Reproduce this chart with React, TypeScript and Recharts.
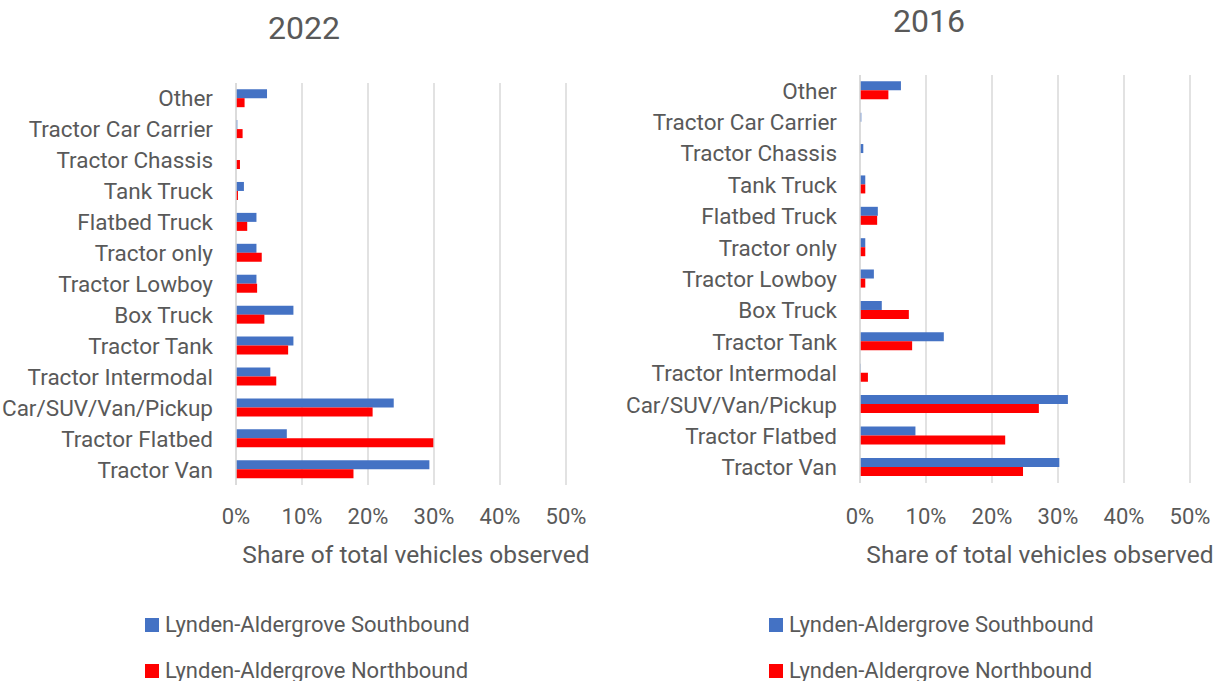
import { BarChart, Bar, XAxis, YAxis, CartesianGrid } from "recharts"

const categories = [
  "Other",
  "Tractor Car Carrier",
  "Tractor Chassis",
  "Tank Truck",
  "Flatbed Truck",
  "Tractor only",
  "Tractor Lowboy",
  "Box Truck",
  "Tractor Tank",
  "Tractor Intermodal",
  "Car/SUV/Van/Pickup",
  "Tractor Flatbed",
  "Tractor Van",
]

// percent of total vehicles observed
const south2022 = [4.7, 0.2, 0, 1.2, 3.1, 3.1, 3.1, 8.7, 8.7, 5.2, 23.9, 7.7, 29.3]
const north2022 = [1.3, 1.0, 0.6, 0.3, 1.7, 3.9, 3.2, 4.3, 7.9, 6.1, 20.7, 29.9, 17.8]
const south2016 = [6.2, 0.2, 0.5, 0.8, 2.7, 0.8, 2.1, 3.3, 12.7, 0.1, 31.5, 8.4, 30.2]
const north2016 = [4.3, 0, 0, 0.8, 2.6, 0.8, 0.8, 7.4, 7.9, 1.2, 27.1, 22.0, 24.7]

const xTicks = [0, 10, 20, 30, 40, 50]

const SOUTH = "Lynden-Aldergrove Southbound"
const NORTH = "Lynden-Aldergrove Northbound"
const BLUE = "#4472C4"
const RED = "#FF0000"
const TEXT = "#595959"
const GRID = "#D9D9D9"
const FONT = "Roboto, 'Open Sans', sans-serif"

const buildRows = (south: number[], north: number[]) =>
  categories.map((name, i) => ({ name, south: south[i], north: north[i] }))

interface PanelProps {
  title: string
  south: number[]
  north: number[]
  left: number
  width: number
  margin: { top: number; right: number; bottom: number; left: number }
  yWidth: number
  tickGap: number
  labelOffset: number
  titleX: number
  titleTop: number
  legendX: number
}

function Panel({
  title,
  south,
  north,
  left,
  width,
  margin,
  yWidth,
  tickGap,
  labelOffset,
  titleX,
  titleTop,
  legendX,
}: PanelProps) {
  const rows = buildRows(south, north)
  return (
    <>
      <div
        style={{
          position: "absolute",
          left: titleX - 100,
          width: 200,
          top: titleTop,
          textAlign: "center",
          fontFamily: FONT,
          fontSize: 32,
          lineHeight: "32px",
          color: TEXT,
        }}
      >
        {title}
      </div>
      <div style={{ position: "absolute", left, top: 0 }}>
        <BarChart
          width={width}
          height={681}
          data={rows}
          layout="vertical"
          margin={margin}
          barCategoryGap="20%"
          barGap={0}
        >
          <CartesianGrid horizontal={false} stroke={GRID} strokeWidth={1.5} />
          <XAxis
            type="number"
            domain={[0, 50]}
            ticks={xTicks}
            tickFormatter={(v) => `${v}%`}
            axisLine={false}
            tickLine={false}
            tickSize={0}
            tickMargin={tickGap}
            height={80}
            tick={{ fill: TEXT, fontSize: 22, fontFamily: FONT }}
            label={{
              value: "Share of total vehicles observed",
              position: "insideBottom",
              offset: labelOffset,
              dx: 15,
              fill: TEXT,
              fontSize: 24.5,
              fontFamily: FONT,
            }}
          />
          <YAxis
            type="category"
            dataKey="name"
            width={yWidth}
            interval={0}
            axisLine={{ stroke: GRID, strokeWidth: 1.5 }}
            tickLine={false}
            tickSize={0}
            tickMargin={23}
            tick={{ fill: TEXT, fontSize: 22.5, fontFamily: FONT }}
          />
          <Bar dataKey="south" name={SOUTH} fill={BLUE} isAnimationActive={false} />
          <Bar dataKey="north" name={NORTH} fill={RED} isAnimationActive={false} />
        </BarChart>
      </div>
      {[
        { label: SOUTH, color: BLUE, top: 618 },
        { label: NORTH, color: RED, top: 664 },
      ].map((item) => (
        <div key={item.label}>
          <div
            style={{
              position: "absolute",
              left: legendX,
              top: item.top,
              width: 14,
              height: 14,
              background: item.color,
            }}
          />
          <div
            style={{
              position: "absolute",
              left: legendX + 20,
              top: item.top - 4.5,
              fontFamily: FONT,
              fontSize: 22,
              lineHeight: "22px",
              color: TEXT,
              whiteSpace: "nowrap",
            }}
          >
            {item.label}
          </div>
        </div>
      ))}
    </>
  )
}

export default function App() {
  return (
    <div
      style={{
        position: "fixed",
        left: 0,
        top: 0,
        width: 1221,
        height: 681,
        background: "#fff",
        overflow: "hidden",
      }}
    >
      <Panel
        title="2022"
        south={south2022}
        north={north2022}
        left={0}
        width={610}
        margin={{ top: 83, right: 44, bottom: 116, left: 6 }}
        yWidth={230}
        tickGap={23}
        labelOffset={2}
        titleX={304}
        titleTop={12}
        legendX={145}
      />
      <Panel
        title="2016"
        south={south2016}
        north={north2016}
        left={610}
        width={611}
        margin={{ top: 75, right: 31, bottom: 118, left: 10 }}
        yWidth={240}
        tickGap={25}
        labelOffset={0}
        titleX={929}
        titleTop={5}
        legendX={769}
      />
    </div>
  )
}
